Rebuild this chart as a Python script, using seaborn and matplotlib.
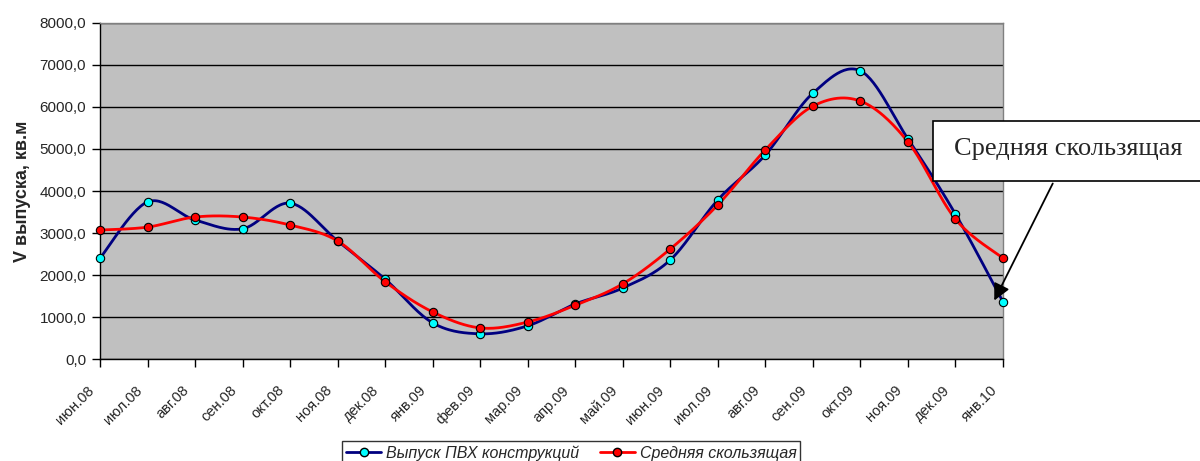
import numpy as np
import pandas as pd
import matplotlib
matplotlib.use("Agg")
import matplotlib.pyplot as plt
import matplotlib.transforms as mtransforms
from matplotlib.lines import Line2D
from matplotlib.patches import Rectangle, FancyArrowPatch
from matplotlib.ticker import FuncFormatter, MultipleLocator
import seaborn as sns

months = ["июн.08", "июл.08", "авг.08", "сен.08", "окт.08", "ноя.08", "дек.08",
          "янв.09", "фев.09", "мар.09", "апр.09", "май.09", "июн.09", "июл.09",
          "авг.09", "сен.09", "окт.09", "ноя.09", "дек.09", "янв.10"]
output = [2400, 3740, 3310, 3100, 3710, 2810, 1900, 860, 600, 790,
          1310, 1690, 2360, 3790, 4860, 6330, 6860, 5240, 3450, 1360]
moving_avg = [3070, 3140, 3380, 3380, 3190, 2810, 1840, 1120, 740, 880,
              1280, 1790, 2620, 3670, 4980, 6020, 6140, 5170, 3330, 2400]

series_names = ["Выпуск ПВХ конструкций", "Средняя скользящая"]


def smooth(y, steps=30):
    """Catmull-Rom style smoothing of a category line (Bezier segments)."""
    y = np.asarray(y, dtype=float)
    x = np.arange(len(y), dtype=float)
    pts = np.column_stack([x, y])
    out = [pts[0]]
    n = len(pts)
    t = np.linspace(0, 1, steps)[1:]
    for i in range(n - 1):
        p0 = pts[i - 1] if i > 0 else pts[i]
        p1 = pts[i]
        p2 = pts[i + 1]
        p3 = pts[i + 2] if i + 2 < n else pts[i + 1]
        c1 = p1 + (p2 - p0) / 6.0
        c2 = p2 - (p3 - p1) / 6.0
        for tt in t:
            b = ((1 - tt) ** 3) * p1 + 3 * ((1 - tt) ** 2) * tt * c1 \
                + 3 * (1 - tt) * tt ** 2 * c2 + tt ** 3 * p2
            out.append(b)
    out = np.array(out)
    return out[:, 0], out[:, 1]


sns.set_theme(style="white")
plt.rcParams["font.family"] = ["Liberation Sans", "DejaVu Sans"]

fig = plt.figure(figsize=(12, 4.61), dpi=100)
ax = fig.add_axes([100 / 1200, 1 - 359 / 461, 903 / 1200, 336 / 461])
ax.set_facecolor("#C0C0C0")

styles = [
    dict(line="#000080", face="#00FFFF"),
    dict(line="#FF0000", face="#FF0000"),
]
for name, vals, st in zip(series_names, [output, moving_avg], styles):
    sx, sy = smooth(vals)
    curve = pd.DataFrame({"x": sx, "y": sy})
    sns.lineplot(data=curve, x="x", y="y", ax=ax, color=st["line"],
                 linewidth=2.0, sort=False, estimator=None, zorder=3)
    pts = pd.DataFrame({"x": np.arange(len(vals)), "y": vals})
    sns.scatterplot(data=pts, x="x", y="y", ax=ax, color=st["face"],
                    edgecolor="black", linewidth=0.8, s=36, zorder=4,
                    clip_on=False)

ax.set_xlim(0, len(months) - 1)
ax.set_ylim(0, 8000)
ax.yaxis.set_major_locator(MultipleLocator(1000))
ax.yaxis.set_major_formatter(FuncFormatter(lambda v, p: f"{v:.1f}".replace(".", ",")))
ax.set_xticks(np.arange(len(months)))
ax.set_xticklabels(months, rotation=45, ha="right", va="center",
                   rotation_mode="anchor", fontsize=10.5)
ax.tick_params(axis="y", labelsize=11, length=6, width=1, direction="out",
               left=True, color="black", pad=4)
ax.tick_params(axis="x", length=6, width=1, direction="out", bottom=True,
               color="black", pad=15)
# nudge the slanted month labels slightly to the left of their ticks
shift = mtransforms.ScaledTranslation(-8 / 100, 0, fig.dpi_scale_trans)
for lbl in ax.get_xticklabels():
    lbl.set_transform(lbl.get_transform() + shift)
ax.grid(axis="y", color="black", linewidth=1)
ax.set_axisbelow(True)
ax.set_xlabel("")
ax.set_ylabel("V выпуска, кв.м", fontsize=13, fontweight="bold", labelpad=6)
for side in ["top", "right"]:
    ax.spines[side].set_color("#808080")
    ax.spines[side].set_linewidth(1)
for side in ["left", "bottom"]:
    ax.spines[side].set_color("black")
    ax.spines[side].set_linewidth(1)

handles = [
    Line2D([0], [0], color=st["line"], linewidth=2.0, marker="o",
           markerfacecolor=st["face"], markeredgecolor="black", markersize=6)
    for st in styles
]
leg = fig.legend(handles, series_names, loc="upper left",
                 bbox_to_anchor=(342 / 1200, 1 - 441 / 461), ncol=2,
                 frameon=True, fancybox=False, edgecolor="black",
                 prop={"style": "italic", "size": 11.5}, handlelength=2.2,
                 columnspacing=1.3, handletextpad=0.3, borderpad=0.25,
                 borderaxespad=0)
leg.get_frame().set_linewidth(1)

# callout box with arrow pointing at the last point
fig.patches.append(Rectangle((933 / 1200, 1 - 181 / 461), 280 / 1200, 60 / 461,
                             transform=fig.transFigure, facecolor="white",
                             edgecolor="black", linewidth=1.2, zorder=5))
fig.text(954 / 1200, 1 - 149 / 461, "Средняя скользящая",
         family=["Liberation Serif", "DejaVu Serif"], fontsize=19,
         ha="left", va="center", zorder=6)
arrow = FancyArrowPatch((1054 / 1200, 1 - 181 / 461), (993 / 1200, 1 - 303 / 461),
                        transform=fig.transFigure, arrowstyle="-|>",
                        mutation_scale=25, color="black", linewidth=1.3,
                        zorder=6)
fig.patches.append(arrow)

fig.savefig("out.png", dpi=100)
